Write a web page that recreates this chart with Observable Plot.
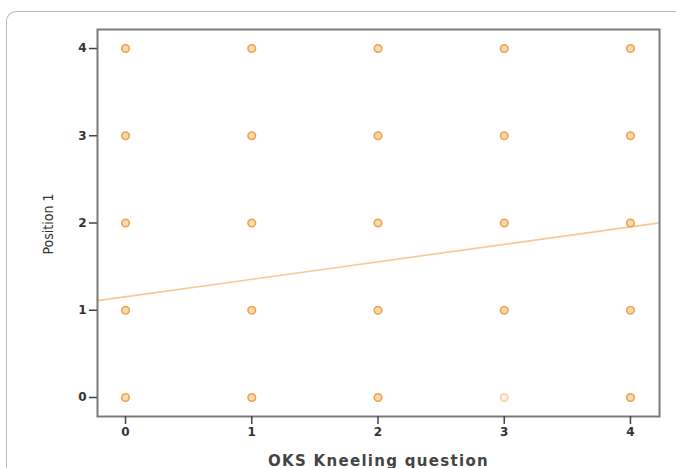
<!DOCTYPE html>
<html>
<head>
<meta charset="utf-8">
<script src="https://cdn.jsdelivr.net/npm/d3@7"></script>
<script src="https://cdn.jsdelivr.net/npm/@observablehq/plot@0.6"></script>
<style>
  html, body { margin: 0; padding: 0; background: #fff; }
  #wrap { position: relative; width: 676px; height: 468px; overflow: hidden; }
  #box { position: absolute; left: 6px; top: 11px; width: 700px; height: 500px;
         border-top: 1.5px solid #b8b8b8; border-left: 1.5px solid #b8b8b8;
         border-top-left-radius: 10px; }
  #chart { position: absolute; left: 0; top: 0; }
</style>
</head>
<body>
<div id="wrap"><div id="box"></div><div id="chart"></div></div>
<script>
// Data
const kneeling = [0, 1, 2, 3, 4];          // OKS Kneeling question categories
const position = [0, 1, 2, 3, 4];          // Position 1 categories
const xTicks = [0, 1, 2, 3, 4];
const yTicks = [0, 1, 2, 3, 4];
const fitIntercept = 1.155;
const fitSlope = 0.2;
const xDomain = [-0.222, 4.23];
const yDomain = [-0.218, 4.218];

const points = [];
for (const x of kneeling) for (const y of position) points.push({x, y, faint: x === 3 && y === 0});
const fit = xDomain.map(x => ({x, y: fitIntercept + fitSlope * x}));

const plot = Plot.plot({
  width: 676,
  height: 468,
  marginLeft: 97,
  marginRight: 17,
  marginTop: 29,
  marginBottom: 52,
  style: {background: "transparent", fontFamily: "DejaVu Sans, sans-serif"},
  x: {domain: xDomain, ticks: xTicks},
  y: {domain: yDomain, ticks: yTicks},
  marks: [
    Plot.line(fit, {x: "x", y: "y", stroke: "#f7c896", strokeWidth: 1.6}),
    Plot.dot(points, {x: "x", y: "y", r: 3.8, stroke: "#f0a24e", strokeWidth: 1.6,
      fill: "#f9d9b0", strokeOpacity: d => d.faint ? 0.45 : 1, fillOpacity: d => d.faint ? 0.4 : 1}),
    Plot.frame({stroke: "#7a7a7a", strokeWidth: 2}),
    Plot.axisX({ticks: xTicks, tickSize: 8, tickPadding: 3, stroke: "#444", strokeWidth: 1.5,
      fontSize: 12, fill: "#333", fontWeight: "bold", tickFormat: d => String(d),
      label: "OKS Kneeling question", labelAnchor: "center", labelArrow: "none", labelOffset: 49}),
    Plot.axisY({ticks: yTicks, tickSize: 8, tickPadding: 3, stroke: "#444", strokeWidth: 1.5,
      fontSize: 12, fill: "#333", fontWeight: "bold", tickFormat: d => String(d),
      label: null})
  ]
});
document.getElementById("chart").appendChild(plot);

const svg = d3.select(plot);
svg.selectAll("[aria-label='x-axis label'] text")
  .attr("font-size", 15).attr("font-weight", 600).attr("fill", "#444")
  .attr("letter-spacing", "1.3px");

// y label
svg.append("text")
  .attr("transform", "translate(53,224) rotate(-90)")
  .attr("text-anchor", "middle")
  .attr("font-family", "DejaVu Sans Condensed, DejaVu Sans, sans-serif")
  .attr("font-stretch", "condensed")
  .attr("font-size", 14)
  .attr("fill", "#333")
  .text("Position 1");
</script>
</body>
</html>
